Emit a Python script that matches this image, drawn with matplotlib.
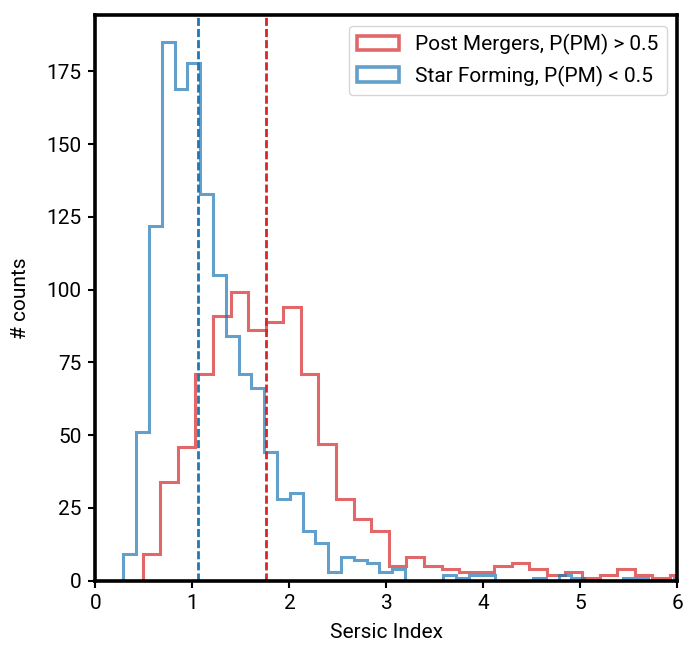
import numpy as np
import matplotlib
matplotlib.use("Agg")
import matplotlib.pyplot as plt

plt.rcParams['font.family'] = ['Roboto', 'DejaVu Sans']

# bin layout of the two histograms (Sersic index)
pm_start, pm_width = 0.487, 0.1812
sf_start, sf_width = 0.287, 0.1320

# counts per bin
pm_counts = [9, 34, 46, 71, 91, 99, 86, 89, 94, 71,
             47, 28, 21, 17, 5, 8, 5, 4, 3, 3,
             5, 6, 4, 2, 3, 1, 2, 4, 2, 1,
             2]
sf_counts = [9, 51, 122, 185, 169, 178, 133, 105, 84, 71,
             66, 44, 28, 30, 17, 13, 3, 8, 7, 6,
             3, 4, 0, 0, 0, 2, 1, 2, 2, 0,
             0, 0, 1, 0, 2, 1, 0, 0, 0, 1,
             1, 0, 0, 1]

pm_median = 1.758
sf_median = 1.060

labels = ['Post Mergers, P(PM) > 0.5', 'Star Forming, P(PM) < 0.5']

pm_edges = pm_start + pm_width * np.arange(len(pm_counts) + 1)
sf_edges = sf_start + sf_width * np.arange(len(sf_counts) + 1)

fig = plt.figure(figsize=(6.98, 6.59), dpi=100)
ax = fig.add_axes([0.1368, 0.1191, 0.8338, 0.8577])

ax.hist(pm_edges[:-1], bins=pm_edges, weights=pm_counts, histtype='step',
        color='tab:red', alpha=0.7, linewidth=2.2, label=labels[0])
ax.hist(sf_edges[:-1], bins=sf_edges, weights=sf_counts, histtype='step',
        color='tab:blue', alpha=0.7, linewidth=2.2, label=labels[1])

ax.axvline(sf_median, color='tab:blue', linestyle=(0, (2.9, 1.1)), linewidth=2)
ax.axvline(pm_median, color='tab:red', linestyle=(0, (2.9, 1.1)), linewidth=2)

ax.set_xlim(0, 6)
ax.set_xlabel('Sersic Index', fontsize=15, labelpad=7)
ax.set_ylabel('# counts', fontsize=15, labelpad=12)
ax.tick_params(labelsize=15, width=1.5, length=5, pad=5)
for s in ax.spines.values():
    s.set_linewidth(2.6)

leg = ax.legend(loc='upper right', fontsize=15, handlelength=2.0)
for h in leg.legend_handles:
    h.set_linewidth(2.6)

fig.savefig('out.png', dpi=100)
